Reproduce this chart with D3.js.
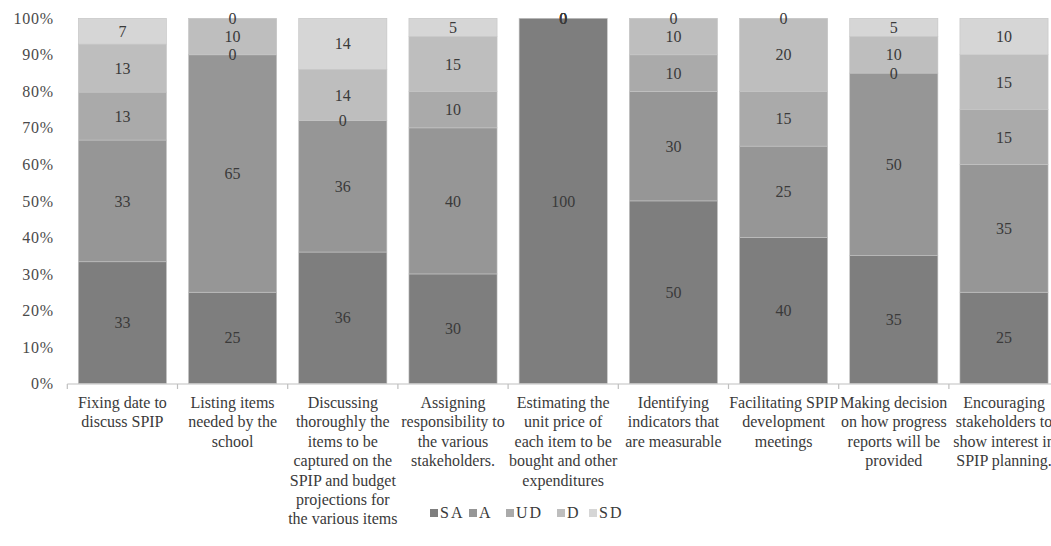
<!DOCTYPE html>
<html>
<head>
<meta charset="utf-8">
<script src="https://cdn.jsdelivr.net/npm/d3@7/dist/d3.min.js"></script>
<style>
  html, body { margin: 0; padding: 0; background: #fff; }
  svg { display: block; font-family: "Liberation Serif", "Times New Roman", serif; }
</style>
</head>
<body>
<svg id="chart" width="1051" height="546"></svg>
<script>
const categories = [
  ["Fixing date to", "discuss SPIP"],
  ["Listing items", "needed by the", "school"],
  ["Discussing", "thoroughly the", "items to be", "captured on the", "SPIP and budget", "projections for", "the various items"],
  ["Assigning", "responsibility to", "the various", "stakeholders."],
  ["Estimating the", "unit price of", "each item to be", "bought and other", "expenditures"],
  ["Identifying", "indicators that", "are measurable"],
  ["Facilitating SPIP", "development", "meetings"],
  ["Making decision", "on how progress", "reports will be", "provided"],
  ["Encouraging", "stakeholders to", "show interest in", "SPIP planning."]
];
const seriesNames = ["SA", "A", "UD", "D", "SD"];
const SA = [33, 25, 36, 30, 100, 50, 40, 35, 25];
const A  = [33, 65, 36, 40, 0, 30, 25, 50, 35];
const UD = [13, 0, 0, 10, 0, 10, 15, 0, 15];
const D  = [13, 10, 14, 15, 0, 10, 20, 10, 15];
const SD = [7, 0, 14, 5, 0, 0, 0, 5, 10];
const yTicks = [0, 0.1, 0.2, 0.3, 0.4, 0.5, 0.6, 0.7, 0.8, 0.9, 1.0];
const colors = ["#7e7e7e", "#969696", "#aaaaaa", "#bebebe", "#d6d6d6"];

const seriesValues = [SA, A, UD, D, SD];
const rows = categories.map((c, i) => {
  const r = { idx: i };
  seriesNames.forEach((s, j) => r[s] = seriesValues[j][i]);
  return r;
});

const svg = d3.select("#chart");
const left = 67.3, step = 110.2;
const x = d3.scaleBand()
  .domain(categories.map((c, i) => i))
  .range([left, left + step * categories.length])
  .paddingInner(0.2).paddingOuter(0.1);
const y = d3.scaleLinear().domain([0, 1]).range([383.5, 18.3]);

const stack = d3.stack().keys(seriesNames).offset(d3.stackOffsetExpand);
const stacked = stack(rows);

// bars
const g = svg.append("g");
stacked.forEach((layer, li) => {
  g.selectAll(null).data(layer).enter().append("rect")
    .attr("x", d => x(d.data.idx))
    .attr("width", x.bandwidth())
    .attr("y", d => y(d[1]))
    .attr("height", d => y(d[0]) - y(d[1]))
    .attr("fill", colors[li])
    .attr("stroke", "#c4c4c4")
    .attr("stroke-width", 0.6);
});

// value labels
stacked.forEach((layer, li) => {
  g.selectAll(null).data(layer).enter().append("text")
    .attr("x", d => x(d.data.idx) + x.bandwidth() / 2)
    .attr("y", d => y((d[0] + d[1]) / 2))
    .attr("dy", "0.35em")
    .attr("text-anchor", "middle")
    .attr("font-size", 16)
    .attr("fill", "#3a3a3a")
    .text(d => d.data[layer.key]);
});

// y axis labels
const yAxis = d3.axisLeft(y).tickValues(yTicks).tickFormat(d => Math.round(d * 100) + "%").tickSize(0).tickPadding(0);
const ya = svg.append("g").attr("transform", "translate(54,0)").call(yAxis);
ya.select(".domain").remove();
ya.selectAll("text").attr("font-size", 16).attr("fill", "#4a4a4a")
  .attr("font-family", "Liberation Serif, serif").attr("letter-spacing", "0.8px");

// x axis
const xEnd = left + step * categories.length;
const xa = svg.append("g");
xa.append("line").attr("x1", left).attr("x2", xEnd).attr("y1", 384).attr("y2", 384)
  .attr("stroke", "#bfbfbf").attr("stroke-width", 1.2);
d3.range(categories.length + 1).forEach(i => {
  const tx = left + step * i;
  xa.append("line").attr("x1", tx).attr("x2", tx).attr("y1", 384).attr("y2", 389)
    .attr("stroke", "#bfbfbf").attr("stroke-width", 1.2);
});
categories.forEach((lines, i) => {
  const t = xa.append("text")
    .attr("text-anchor", "middle")
    .attr("font-size", 16)
    .attr("fill", "#3a3a3a");
  lines.forEach((ln, k) => {
    t.append("tspan")
      .attr("x", x(i) + x.bandwidth() / 2)
      .attr("y", 408 + k * 19.4)
      .text(ln);
  });
});

// legend
const legendX = [430, 469, 506, 557, 589];
const lg = svg.append("g");
seriesNames.forEach((s, i) => {
  lg.append("rect").attr("x", legendX[i]).attr("y", 509).attr("width", 8).attr("height", 8)
    .attr("fill", colors[i]);
  lg.append("text").attr("x", legendX[i] + 10).attr("y", 518)
    .attr("font-size", 16).attr("fill", "#3a3a3a").attr("letter-spacing", "2px")
    .text(s);
});
</script>
</body>
</html>
